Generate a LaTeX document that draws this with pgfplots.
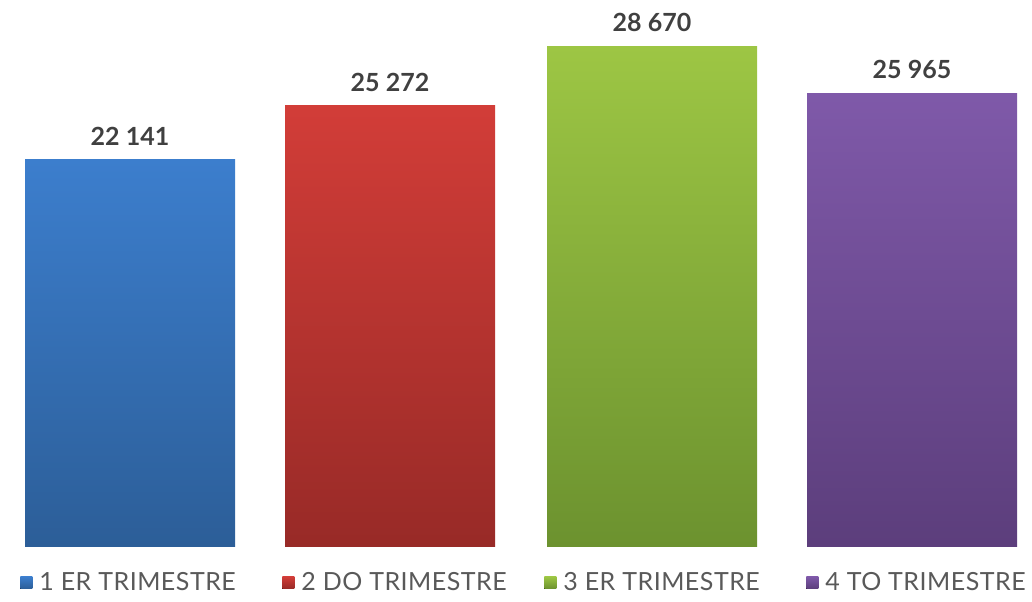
\documentclass[border=0pt]{standalone}
\usepackage{pgfplots}
\pgfplotsset{compat=1.18}
\usepackage{fontspec}
\setmainfont{Lato}
\definecolor{bA}{HTML}{3C7ECD}\definecolor{bAb}{HTML}{2C5E98}
\definecolor{bB}{HTML}{D23D38}\definecolor{bBb}{HTML}{982A27}
\definecolor{bC}{HTML}{9DC644}\definecolor{bCb}{HTML}{6C922F}
\definecolor{bD}{HTML}{7F59A9}\definecolor{bDb}{HTML}{5C3E7C}
\definecolor{lab}{HTML}{404040}
\definecolor{leg}{HTML}{595959}
\newcommand{\legbox}[1]{\makebox[121pt][l]{\hspace{1.5pt}\addfontfeature{LetterSpace=2}#1}}
\begin{document}
\begin{tikzpicture}
\useasboundingbox (0,0) rectangle (516pt,300.5pt);
\begin{axis}[
  at={(0pt,27.5pt)}, anchor=south west,
  scale only axis, width=516pt, height=273pt,
  xmin=0, xmax=1032, ymin=0, ymax=31310,
  hide axis, clip=false,
  ybar, bar width=210,
  /pgf/number format/assume math mode=true,
  /pgf/number format/1000 sep={\ },
  nodes near coords,
  every node near coord/.append style={font=\fontsize{12.5}{14}\selectfont\bfseries, text=lab, anchor=south, yshift=3.5pt},
  legend columns=4,
  legend style={at={(0,0)}, anchor=west, xshift=7pt, yshift=-18.5pt, draw=none, fill=none,
    font=\fontsize{12.5}{14}\selectfont, text=leg,
    /tikz/every even column/.append style={column sep=0pt}},
  legend cell align=left,
  legend image code/.code={\fill[#1] (0pt,-2.8pt) rectangle (6pt,3.2pt);},
]
\addplot[bar shift=0pt, draw=none, top color=bA, bottom color=bAb] coordinates {(130,22141)};
\addplot[bar shift=0pt, draw=none, top color=bB, bottom color=bBb] coordinates {(390,25272)};
\addplot[bar shift=0pt, draw=none, top color=bC, bottom color=bCb] coordinates {(652,28670)};
\addplot[bar shift=0pt, draw=none, top color=bD, bottom color=bDb] coordinates {(912,25965)};
\legend{\legbox{1 ER TRIMESTRE}, \legbox{2 DO TRIMESTRE}, \legbox{3 ER TRIMESTRE}, \legbox{4 TO TRIMESTRE}}
\end{axis}
\end{tikzpicture}
\end{document}
